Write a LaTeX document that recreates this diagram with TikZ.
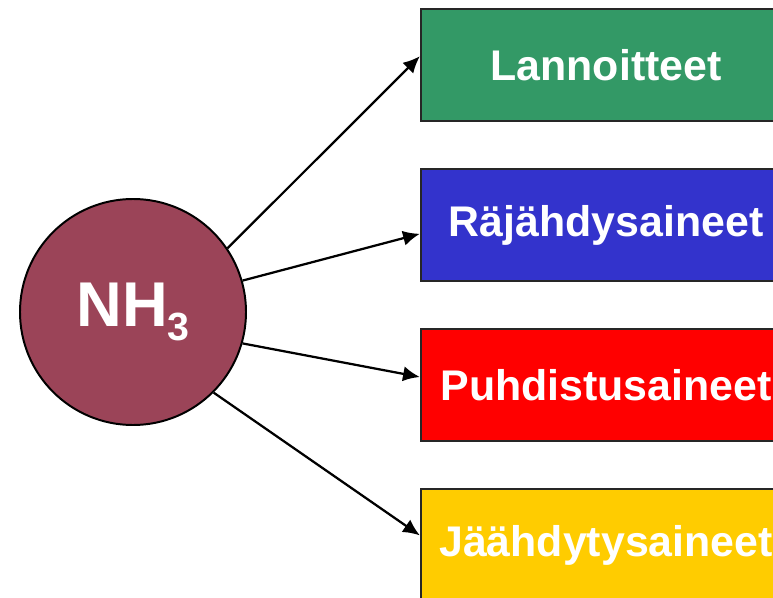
\documentclass[tikz,border=0pt]{standalone}
\usepackage{fontspec}
\setmainfont{Liberation Sans}
\usepackage{tikz}
\usetikzlibrary{arrows.meta}

\definecolor{nhred}{RGB}{155,68,88}
\definecolor{lanvihrea}{RGB}{51,153,102}
\definecolor{rajsin}{RGB}{51,51,204}
\definecolor{puhpun}{RGB}{255,0,0}
\definecolor{jaakelt}{RGB}{255,204,0}

\tikzset{
  aine/.style={draw=black!85, line width=1.6pt, minimum width=92.5mm, minimum height=28mm,
    text=white, font=\fontsize{30.5}{36}\selectfont\bfseries},
  nuoli/.style={line width=1.6pt, -{Latex[length=4.2mm,width=3.8mm]}}
}

\begin{document}
\begin{tikzpicture}[x=0.25mm, y=-0.25mm, node distance=40mm]
        \useasboundingbox (0,0) rectangle (773,597);
        \clip (0,0) rectangle (773,597);
        \node [circle, draw, line width=1.4pt, fill=nhred, minimum size=56.5mm, text=white,
               font=\fontsize{45}{50}\selectfont\bfseries] (nh3) at (133,312)
               {NH\raisebox{-3.4mm}{\fontsize{28}{30}\selectfont 3}};
        \node [aine, fill=lanvihrea] (lannoitteet) at (606,65) {Lannoitteet};
        \node [aine, fill=rajsin, below of=lannoitteet] (rajahdys) {Räjähdysaineet};
        \node [aine, fill=puhpun, below of=rajahdys] (puhdistus) {Puhdistusaineet};
        \node [aine, fill=jaakelt, below of=puhdistus] (jaahdytys) {Jäähdytysaineet};
        \draw [nuoli] (nh3.34) -- ([yshift=2.2mm]lannoitteet.west);
        \draw [nuoli] (nh3.16) -- ([yshift=-2.2mm]rajahdys.west);
        \draw [nuoli] (nh3.-16) -- ([yshift=2mm]puhdistus.west);
        \draw [nuoli] (nh3.-45) -- ([yshift=2.4mm]jaahdytys.west);
    \end{tikzpicture}
\end{document}
